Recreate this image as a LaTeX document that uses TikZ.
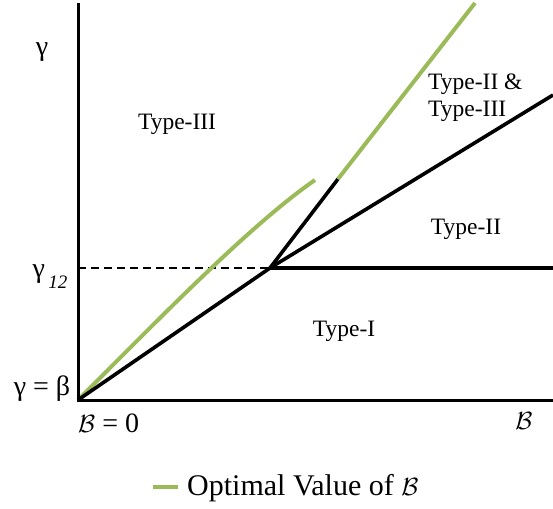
\documentclass[tikz,border=0pt]{standalone}
\usepackage{fontspec}
\setmainfont{Liberation Serif}
\usepackage{tikz}
\usetikzlibrary{positioning}
\definecolor{OptGreen}{HTML}{9BBB59}
\definecolor{Ink}{HTML}{000000}

\begin{document}
\begin{tikzpicture}[
  x=1pt, y=-1pt,
  axis/.style={line width=3pt, draw=Ink},
  bound/.style={line width=3.6pt, draw=Ink},
  optimal/.style={line width=4pt, draw=OptGreen},
  guide/.style={line width=1.1pt, draw=Ink, dash pattern=on 8pt off 5pt},
  region/.style={inner sep=0pt, text=Ink, font=\fontsize{23.5}{27}\selectfont},
  tick/.style={inner sep=0pt, text=Ink, font=\fontsize{28}{32}\selectfont},
  legendtext/.style={inner sep=0pt, text=Ink, font=\fontsize{30}{34}\selectfont}
]
\useasboundingbox (0,0) rectangle (553,508);
% key points of the plane
\coordinate (O) at (78,400);
\coordinate (ytop) at (78,3);
\coordinate (xend) at (553,400);
\coordinate (P) at (270,268);
\coordinate (y12) at (78,268);
\coordinate (knee) at (338,179);
\coordinate (gtop) at (475,3);
\coordinate (upper) at (553,95);
\coordinate (flat) at (553,268);
\coordinate (cend) at (315,180);
% boundaries
\draw[guide] (y12)--(P);
\draw[optimal] (O) .. controls (160,318) and (250,225) .. (cend);
\draw[bound] (O)--(P);
\draw[bound] (P)--(upper);
\draw[bound] (P)--(flat);
\draw[bound] (P)--(knee);
\draw[optimal] (knee)--(gtop);
\draw[axis] (ytop)--(O)--(xend);
% labels
\node[tick, anchor=base] (lgamma) at (42,56) {γ};
\node[tick, anchor=base] (lg12) at (50,277) {γ\raisebox{-0.9ex}{\fontsize{19}{19}\selectfont\,\textit{12}}};
\node[tick, anchor=base] (lgb) at (42,395) {γ = β};
\node[tick, anchor=base west] (lb0) at (78,432) {$\mathcal{B}$ = 0};
\node[tick, anchor=base] (lb) at (524,429) {$\mathcal{B}$};
\node[region, anchor=base] (t3) at (177,129) {Type-III};
\node[region, anchor=base west, align=left] (t23) at (428,116) {Type-II \&\\Type-III};
\node[region, anchor=base] (t2) at (466,234) {Type-II};
\node[region, anchor=base] (t1) at (344,336) {Type-I};
% legend
\coordinate (la) at (153,487);
\coordinate (lz) at (178,487);
\draw[optimal] (la)--(lz);
\node[legendtext, anchor=base west] (ltext) at (187,495) {Optimal Value of $\mathcal{B}$};
\end{tikzpicture}
\end{document}
